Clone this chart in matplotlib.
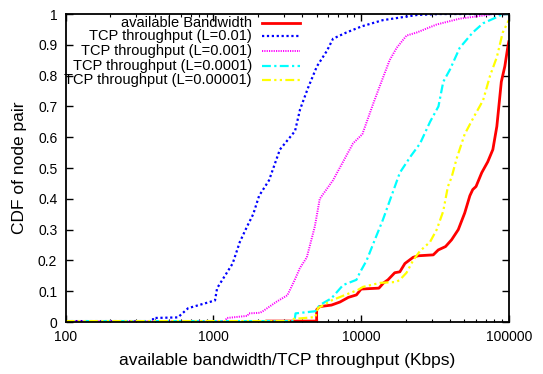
import matplotlib
matplotlib.use("Agg")
import matplotlib.pyplot as plt
from matplotlib.ticker import FixedLocator, LogLocator, NullFormatter, FuncFormatter

plt.rcParams['font.family'] = ['Liberation Sans', 'DejaVu Sans']

labels = ["available Bandwidth", "TCP throughput (L=0.01)", "TCP throughput (L=0.001)",
          "TCP throughput (L=0.0001)", "TCP throughput (L=0.00001)"]

bw_x = [2300, 5000, 5000, 5250, 6300, 7200, 8200, 9300, 10000, 13200, 14200, 15200, 16900, 18300,
        19800, 22500, 24300, 30800, 33300, 37300, 41000, 45500, 50300, 54500, 57000, 60000, 65600,
        72000, 78000, 83000, 89000, 94000, 99000, 100000]
bw_y = [0.003, 0.003, 0.04, 0.05, 0.055, 0.065, 0.08, 0.088, 0.107, 0.11, 0.127, 0.137, 0.16, 0.163,
        0.19, 0.21, 0.215, 0.218, 0.234, 0.245, 0.267, 0.30, 0.354, 0.41, 0.43, 0.44, 0.485,
        0.52, 0.56, 0.635, 0.78, 0.83, 0.90, 0.91]

l1_x = [100, 390, 390, 575, 675, 1025, 1060, 1350, 1510, 1690, 1860, 2040, 2380, 2820, 3570, 3860,
        4370, 5020, 5860, 6460, 7950, 10100, 14000, 24000, 34000, 100000]
l1_y = [0.003, 0.003, 0.013, 0.015, 0.045, 0.07, 0.11, 0.19, 0.26, 0.31, 0.35, 0.41, 0.46, 0.56, 0.62, 0.69,
        0.76, 0.83, 0.88, 0.92, 0.94, 0.96, 0.98, 0.997, 1.0, 1.0]

l2_x = [100, 1200, 1230, 1700, 1740, 2070, 2160, 2680, 3170, 3540, 3850, 4290, 4860, 5250, 6450,
        8820, 10200, 12100, 13600, 15600, 17400, 20300, 23800, 32500, 46500, 67000, 78000, 100000]
l2_y = [0.003, 0.003, 0.013, 0.02, 0.028, 0.03, 0.035, 0.066, 0.087, 0.135, 0.175, 0.21, 0.31, 0.40, 0.46,
        0.58, 0.61, 0.71, 0.775, 0.85, 0.89, 0.93, 0.94, 0.966, 0.985, 0.995, 1.0, 1.0]

l3_x = [100, 3540, 3600, 4900, 5250, 6300, 7550, 9300, 9800, 10900, 12700, 14000, 15800, 18300,
        21800, 25100, 29300, 33400, 36000, 40000, 46500, 57000, 67000, 83000, 91000, 100000]
l3_y = [0.003, 0.003, 0.028, 0.035, 0.055, 0.077, 0.12, 0.137, 0.16, 0.20, 0.28, 0.33, 0.40, 0.485,
        0.54, 0.58, 0.65, 0.70, 0.78, 0.82, 0.89, 0.94, 0.97, 0.99, 1.0, 1.0]

l4_x = [100, 3300, 3500, 4900, 5100, 6300, 8400, 9500, 10300, 13400, 17300, 18300, 20300, 22500,
        25000, 29300, 32500, 36000, 38700, 41000, 44300, 50300, 58600, 67000, 74700, 83000, 91000, 100000]
l4_y = [0.003, 0.003, 0.01, 0.016, 0.045, 0.07, 0.094, 0.104, 0.114, 0.127, 0.13, 0.137, 0.16, 0.20,
        0.23, 0.26, 0.30, 0.36, 0.44, 0.47, 0.53, 0.61, 0.67, 0.72, 0.80, 0.86, 0.94, 0.98]

y_ticks = [0, 0.1, 0.2, 0.3, 0.4, 0.5, 0.6, 0.7, 0.8, 0.9, 1]
x_ticks = [100, 1000, 10000, 100000]

fig = plt.figure(figsize=(5.43, 3.74), dpi=100)
ax = fig.add_axes([0.121, 0.139, 0.816, 0.8235])

series = [
    (bw_x, bw_y, dict(color='#ff0000', lw=2.0, ls='-')),
    (l1_x, l1_y, dict(color='#0000ff', lw=1.6, ls=(0, (1, 1.2)))),
    (l2_x, l2_y, dict(color='#ff00ff', lw=1.4, ls=(0, (0.6, 0.6)))),
    (l3_x, l3_y, dict(color='#00ffff', lw=1.6, ls=(0, (4, 1.5, 1, 1.5)))),
    (l4_x, l4_y, dict(color='#ffff00', lw=1.6, ls=(0, (4, 1.5, 1, 1.5, 1, 1.5)))),
]
for (xs, ys, st) in series:
    ax.plot(xs, ys, **st)

ax.set_xscale('log')
ax.set_xlim(100, 100000)
ax.set_ylim(0, 1)
ax.xaxis.set_major_locator(FixedLocator(x_ticks))
ax.xaxis.set_major_formatter(FuncFormatter(lambda v, p: "%d" % round(v)))
ax.xaxis.set_minor_locator(LogLocator(base=10, subs=range(2, 10)))
ax.xaxis.set_minor_formatter(NullFormatter())
ax.yaxis.set_major_locator(FixedLocator(y_ticks))
ax.yaxis.set_major_formatter(FuncFormatter(lambda v, p: ("%g" % v)))
ax.tick_params(which='major', direction='in', length=5, width=1, top=True, right=True, labelsize=10, pad=6)
ax.tick_params(which='minor', direction='in', length=2.5, width=0.8, top=True, right=True)
for s in ax.spines.values():
    s.set_linewidth(1.3)

ax.set_xlabel("available bandwidth/TCP throughput (Kbps)", fontsize=12.5, labelpad=6)
ax.set_ylabel("CDF of node pair", fontsize=12.5, labelpad=8)

# gnuplot-style legend: right-aligned text, sample to the right
row_y = [0.971, 0.929, 0.881, 0.832, 0.786]
for (xs, ys, st), lab, yy in zip(series, labels, row_y):
    ax.text(0.420, yy, lab, transform=ax.transAxes, ha='right', va='center', fontsize=10.5)
    ax.plot([0.443, 0.529], [yy, yy], transform=ax.transAxes, **st)

fig.savefig("out.png", dpi=100)
